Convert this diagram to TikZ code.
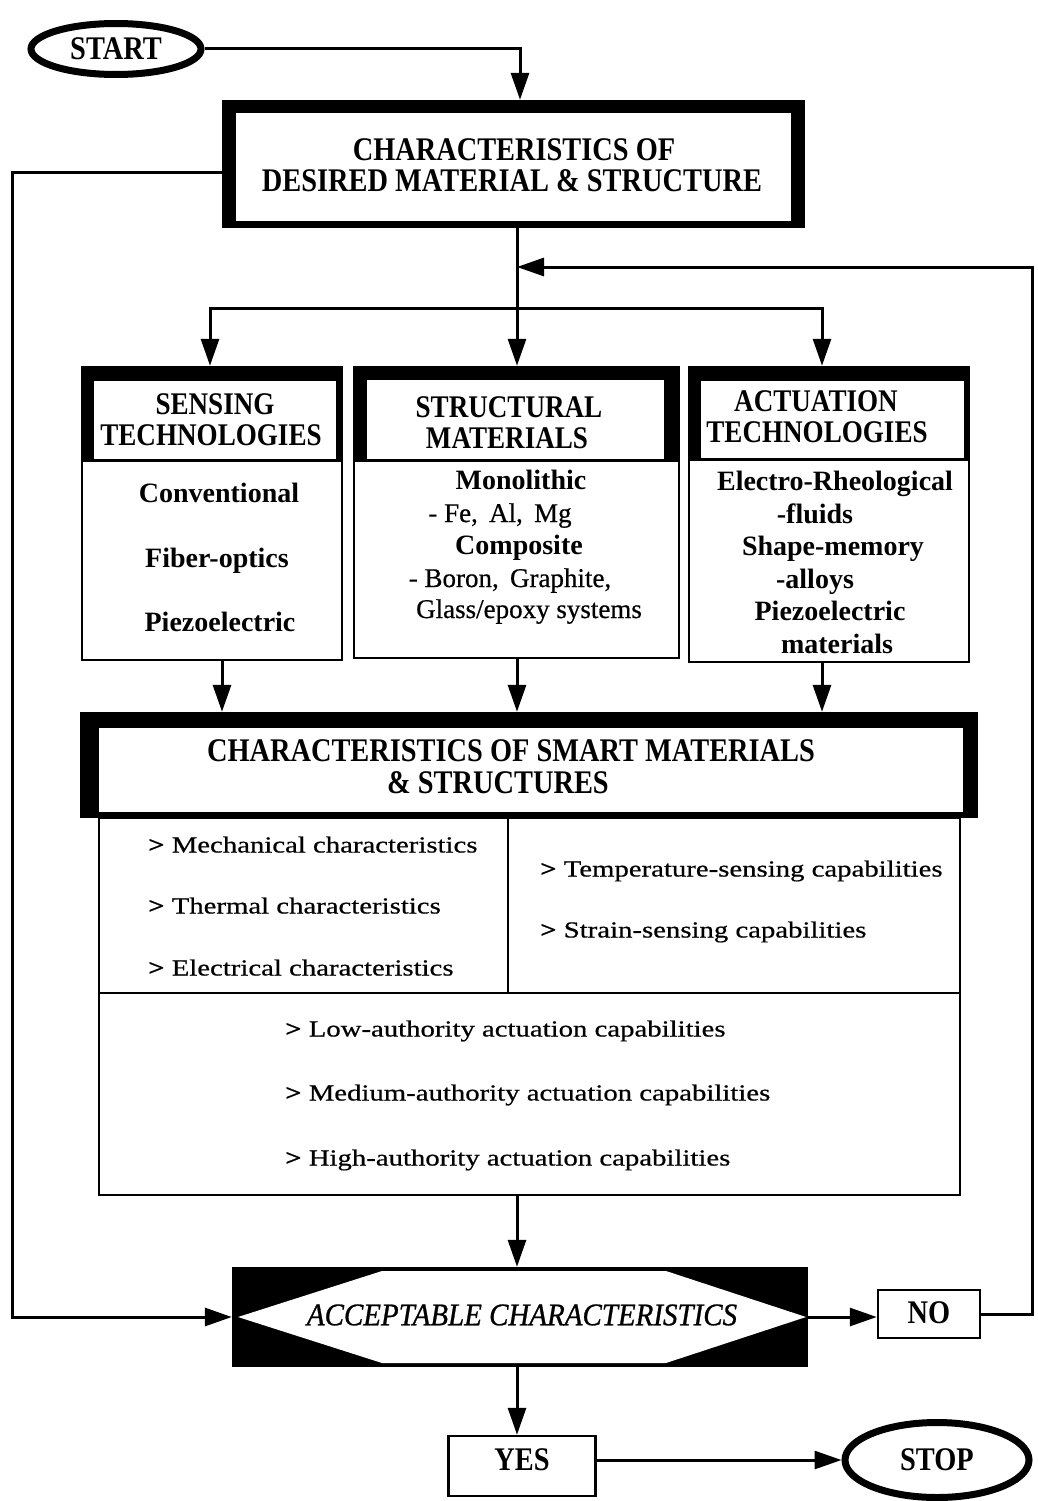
\documentclass[tikz,border=0pt]{standalone}
\usepackage{fontspec}
\setmainfont{Liberation Serif}
\newfontfamily\hdfont{Liberation Serif}[FakeStretch=0.86]
\newfontfamily\smfont{Liberation Serif}[FakeStretch=1.25,FakeBold=0.6]
\newfontfamily\rgfont{Liberation Serif}[FakeBold=0.6]
\newfontfamily\itfont{Liberation Serif}[FakeStretch=0.92,FakeBold=0.8]
\usetikzlibrary{arrows.meta,shapes.geometric}
\tikzset{
  conn/.style={line width=3pt,-{Triangle[length=27pt,width=18pt]}},
  ln/.style={line width=3pt},
  hdt/.style={font=\hdfont\bfseries\fontsize{33}{35}\selectfont, inner sep=0pt, text height=21.5pt, text depth=0pt},
  colt/.style={font=\hdfont\bfseries\fontsize{31.5}{33}\selectfont, inner sep=0pt, text height=20pt, text depth=0pt},
  bdt/.style={font=\bfseries\fontsize{28}{30}\selectfont, inner sep=0pt, text height=18.5pt, text depth=0pt},
  rgt/.style={font=\rgfont\fontsize{27}{30}\selectfont, inner sep=0pt, text height=18pt, text depth=0pt},
  smt/.style={font=\smfont\fontsize{23}{26}\selectfont, inner sep=0pt, text height=15pt, text depth=0pt, anchor=west},
  itt/.style={font=\itfont\itshape\fontsize{31.5}{34}\selectfont, inner sep=0pt, text height=20.5pt, text depth=0pt},
  blk/.style={fill=black, inner sep=0pt},
  wbox/.style={draw, line width=2.5pt, fill=white, inner sep=0pt},
  oval/.style={ellipse, draw, line width=7pt, fill=white},
}
\begin{document}
\begin{tikzpicture}[x=1pt,y=-1pt]
\fill[white] (0,0) rectangle (1037,1501);
\useasboundingbox (0,0) rectangle (1037,1501);

% START
\node[oval, minimum width=170pt, minimum height=51pt, hdt] (start) at (116,49) {START};

% top box
\node[blk, minimum width=583pt, minimum height=128pt] (top) at (513.5,164) {};
\fill[white] (236,113) rectangle (791,221);
\node[hdt] (top1) at (514,150) {CHARACTERISTICS OF};
\node[hdt] (top2) at (512,181) {DESIRED MATERIAL \& STRUCTURE};

% three boxes
\node[wbox, minimum width=260pt, minimum height=293pt] (sens) at (212,513.5) {};
\fill (82,367) rectangle (342,462);
\fill[white] (94,381) rectangle (336,459);
\node[wbox, minimum width=325pt, minimum height=291pt] (str) at (516.5,512.5) {};
\fill (354,367) rectangle (679,462);
\fill[white] (367,380) rectangle (664,459);
\node[wbox, minimum width=280pt, minimum height=295pt] (act) at (829,514.5) {};
\fill (689,367) rectangle (969,461);
\fill[white] (701,381) rectangle (964,458);

\node[colt] (s1) at (215,404) {SENSING};
\node[colt] (s2) at (211,435) {TECHNOLOGIES};
\node[colt] (m1) at (509,407) {STRUCTURAL};
\node[colt] (m2) at (507,438) {MATERIALS};
\node[colt] (a1) at (816,401) {ACTUATION};
\node[colt] (a2) at (817,432) {TECHNOLOGIES};

\node[bdt] (sb1) at (219,493) {Conventional};
\node[bdt] (sb2) at (217,558) {Fiber-optics};
\node[bdt] (sb3) at (220,622) {Piezoelectric};

\node[bdt] (mb1) at (521,480) {Monolithic};
\node[rgt] (mb2) at (500,513) {- Fe,\, Al,\, Mg};
\node[bdt] (mb3) at (519,545) {Composite};
\node[rgt] (mb4) at (510,578) {- Boron,\, Graphite,};
\node[rgt] (mb5) at (529,609) {Glass/epoxy systems};

\node[bdt] (ab1) at (835,481) {Electro-Rheological};
\node[bdt] (ab2) at (815,514) {-fluids};
\node[bdt] (ab3) at (833,546) {Shape-memory};
\node[bdt] (ab4) at (815,579) {-alloys};
\node[bdt] (ab5) at (830,611) {Piezoelectric};
\node[bdt] (ab6) at (837,644) {materials};

% smart box
\node[blk, minimum width=898pt, minimum height=106pt] (smart) at (529,765) {};
\fill[white] (99,728) rectangle (963,812);
\node[hdt] (sm1) at (511,751) {CHARACTERISTICS OF SMART MATERIALS};
\node[hdt] (sm2) at (498,783) {\& STRUCTURES};
\node[draw, line width=2.5pt, inner sep=0pt, minimum width=861pt, minimum height=377pt] (smartbody) at (529.5,1006.5) {};
\draw[line width=2.5pt] (508,818) -- (508,993);
\draw[line width=2.5pt] (99,993) -- (960,993);

\node[smt] (l1) at (148,845) {\textbf{>} Mechanical characteristics};
\node[smt] (l2) at (148,906) {\textbf{>} Thermal characteristics};
\node[smt] (l3) at (148,968) {\textbf{>} Electrical characteristics};
\node[smt] (r1) at (540,869) {\textbf{>} Temperature-sensing capabilities};
\node[smt] (r2) at (540,930) {\textbf{>} Strain-sensing capabilities};
\node[smt] (b1) at (285,1029) {\textbf{>} Low-authority actuation capabilities};
\node[smt] (b2) at (285,1093) {\textbf{>} Medium-authority actuation capabilities};
\node[smt] (b3) at (285,1158) {\textbf{>} High-authority actuation capabilities};

% decision
\node[blk, minimum width=576pt, minimum height=100pt] (hex) at (520,1317) {};
\fill[white] (238,1317) -- (382,1271) -- (666,1271) -- (806,1317) -- (666,1363) -- (382,1363) -- cycle;
\node[itt] (hext) at (522,1315) {ACCEPTABLE CHARACTERISTICS};

\node[wbox, minimum width=102pt, minimum height=48pt] (no) at (929,1314) {};
\node[hdt] (not) at (929,1313) {NO};
\node[wbox, minimum width=147pt, minimum height=60pt] (yes) at (522,1466) {};
\node[hdt] (yest) at (522,1460) {YES};
\node[oval, minimum width=184pt, minimum height=75pt, hdt] (stop) at (937,1460) {STOP};

% connectors
\coordinate (br) at (517,308);
\coordinate (fb) at (517,267);
\coordinate (rt) at (1032,267);
\coordinate (ll) at (12,1317);

\draw[conn] (start.east) -| ([xshift=6.5pt]top.north);
\draw[ln] (br |- top.south) -- (br);
\draw[conn] (br) -| ([xshift=-2pt]sens.north);
\draw[conn] (br) -- (br |- str.north);
\draw[conn] (br) -| ([xshift=-7pt]act.north);
\draw[conn] ([xshift=10pt]sens.south) -- ([xshift=10pt]sens.south |- smart.north);
\draw[conn] (br |- str.south) -- (br |- smart.north);
\draw[conn] ([xshift=-7pt]act.south) -- ([xshift=-7pt]act.south |- smart.north);
\draw[conn] (br |- smartbody.south) -- (br |- hex.north);
\draw[conn] ([yshift=-8pt]top.west) -| (ll) -- (hex.west);
\draw[conn] (hex.east) -- (hex.east -| no.west);
\draw[conn] (no.east) -| (rt) -- (fb);
\draw[conn] (br |- hex.south) -- (br |- yes.north);
\draw[conn] ([yshift=6pt]yes.east) -- (stop.west);
\end{tikzpicture}
\end{document}
